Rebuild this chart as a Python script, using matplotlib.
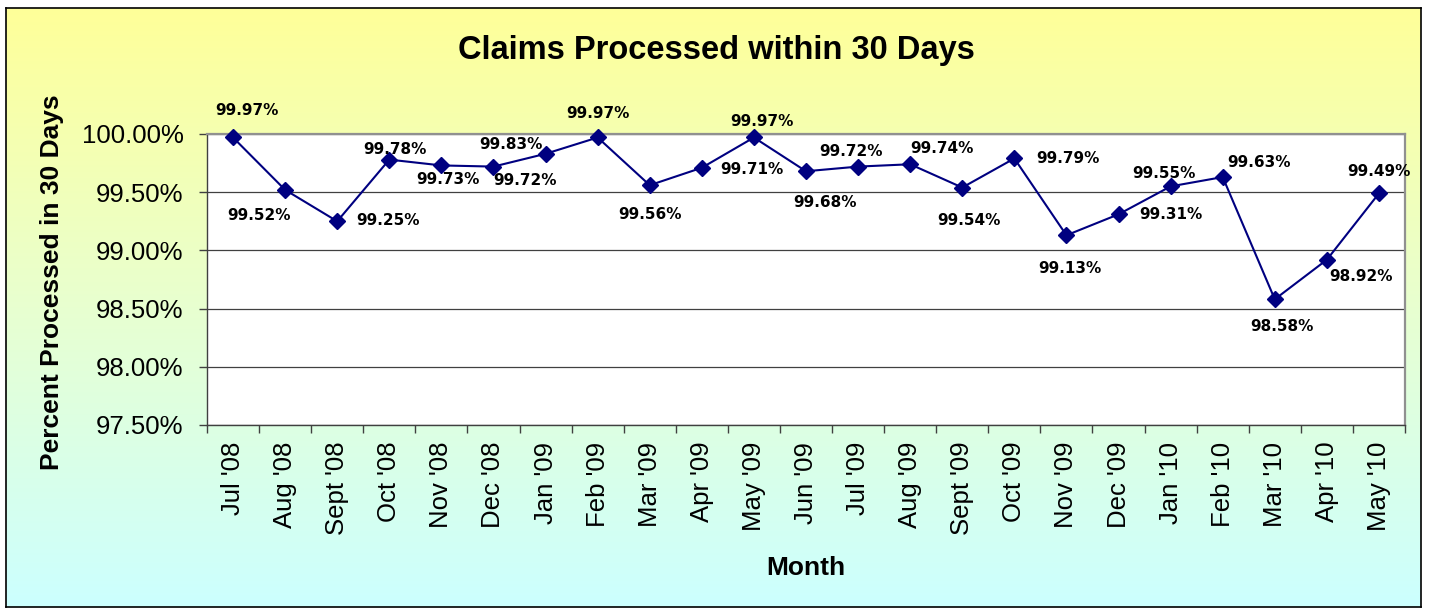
import matplotlib
matplotlib.use("Agg")
import matplotlib.pyplot as plt
import numpy as np
from matplotlib.colors import LinearSegmentedColormap

months = ["Jul '08", "Aug '08", "Sept '08", "Oct '08", "Nov '08", "Dec '08",
          "Jan '09", "Feb '09", "Mar '09", "Apr '09", "May '09", "Jun '09",
          "Jul '09", "Aug '09", "Sept '09", "Oct '09", "Nov '09", "Dec '09",
          "Jan '10", "Feb '10", "Mar '10", "Apr '10", "May '10"]
pct = [99.97, 99.52, 99.25, 99.78, 99.73, 99.72, 99.83, 99.97, 99.56, 99.71,
       99.97, 99.68, 99.72, 99.74, 99.54, 99.79, 99.13, 99.31, 99.55, 99.63,
       98.58, 98.92, 99.49]
yticks = [97.5, 98.0, 98.5, 99.0, 99.5, 100.0]

# label offsets in pixels (dx right, dy down) relative to each point
label_offsets = [(14, -27), (-26, 26), (51, -1), (6, -10), (7, 14), (32, 14),
                 (-35, -9), (0, -24), (0, 29), (50, 2), (8, -16), (19, 31),
                 (-7, -15), (32, -16), (7, 33), (54, 0), (3, 33), (52, 0),
                 (-7, -13), (36, -15), (7, 27), (34, 17), (0, -22)]

W, H = 1429, 610
fig = plt.figure(figsize=(W / 100, H / 100), dpi=100)
fig.patch.set_facecolor("white")

# gradient background inside border
bg = fig.add_axes([6 / W, 1 - 607 / H, (1421 - 6) / W, (607 - 8) / H], zorder=0)
cmap = LinearSegmentedColormap.from_list(
    "bg", [(0.0, "#FFFF99"), (0.5, "#E8FFD0"), (1.0, "#CCFFFF")])
grad = np.linspace(0, 1, 256).reshape(-1, 1)
bg.imshow(grad, aspect="auto", cmap=cmap, extent=[0, 1, 0, 1], origin="upper")
bg.set_xlim(0, 1)
bg.set_ylim(0, 1)
bg.set_xticks([])
bg.set_yticks([])
for s in bg.spines.values():
    s.set_color("black")
    s.set_linewidth(1.2)

L, R, T, B = 207, 1405, 134, 425
ax = fig.add_axes([L / W, 1 - B / H, (R - L) / W, (B - T) / H], zorder=2)
ax.set_facecolor("white")

x = np.arange(len(months))
ax.plot(x, pct, color="#000080", lw=1.5, marker="D", markersize=8.5,
        markerfacecolor="#000080", markeredgecolor="#000080", zorder=5,
        clip_on=False)

for xi, v, (dx, dy) in zip(x, pct, label_offsets):
    ax.annotate(f"{v:.2f}%", (xi, v), xytext=(dx, -dy),
                textcoords="offset pixels", ha="center", va="center",
                fontsize=11, fontweight="bold", family="DejaVu Sans",
                color="black", annotation_clip=False, zorder=6)

ax.set_xlim(-0.5, len(months) - 0.5)
ax.set_ylim(97.5, 100.0)
ax.set_yticks(yticks)
ax.set_yticklabels([f"{t:.2f}%" for t in yticks], family="Liberation Sans",
                   fontsize=18.5)
ax.yaxis.grid(True, color="#404040", lw=0.9)
ax.set_axisbelow(True)

ax.set_xticks(x)
ax.set_xticklabels(months, rotation=90, family="Liberation Sans", fontsize=18.5)
ax.set_xticks(np.arange(len(months) + 1) - 0.5, minor=True)
ax.tick_params(axis="x", which="major", length=0, pad=12)
ax.tick_params(axis="x", which="minor", length=6, width=1, color="#404040",
               direction="out")
ax.tick_params(axis="y", which="major", length=6, width=1, color="#404040",
               direction="out", pad=11)

for side in ["left", "bottom"]:
    ax.spines[side].set_color("#404040")
    ax.spines[side].set_linewidth(1.0)
for side in ["top", "right"]:
    ax.spines[side].set_color("#909090")
    ax.spines[side].set_linewidth(1.6)

fig.text(716 / W, 1 - 50 / H, "Claims Processed within 30 Days",
         ha="center", va="center", fontsize=23.5, fontweight="bold",
         family="Liberation Sans")
fig.text(52 / W, 1 - 282 / H, "Percent Processed in 30 Days", rotation=90,
         ha="center", va="center", fontsize=19, fontweight="bold",
         family="Liberation Sans")
fig.text(806 / W, 1 - 568 / H, "Month", ha="center", va="center",
         fontsize=19, fontweight="bold", family="Liberation Sans")

fig.savefig("out.png", dpi=100)
